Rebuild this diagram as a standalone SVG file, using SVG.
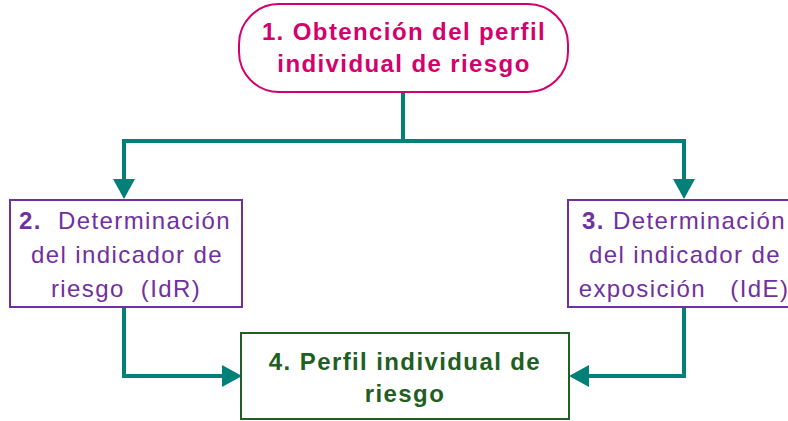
<svg xmlns="http://www.w3.org/2000/svg" width="788" height="421" viewBox="0 0 788 421">
<style>
text{font-family:"Liberation Sans",Arial,sans-serif;font-size:24px;text-anchor:middle;letter-spacing:1.4px}
.t1{fill:#D4006E;font-weight:bold}
.p{fill:#7030A0}
.b{font-weight:bold}
.g{fill:#215E21;font-weight:bold}
.conn{fill:none;stroke:#008078;stroke-width:4;stroke-linejoin:miter}
</style>
<defs>
<marker id="ah" markerUnits="userSpaceOnUse" markerWidth="20" markerHeight="22" refX="0" refY="11" orient="auto">
<path d="M0,0 L20,11 L0,22 z" fill="#008078"/>
</marker>
</defs>
<rect width="788" height="421" fill="#fff"/>
<g id="connectors">
<path class="conn" d="M403,92 V141 H124 V179" marker-end="url(#ah)"/>
<path class="conn" d="M403,141 H684 V179" marker-end="url(#ah)"/>
<path class="conn" d="M124,307 V376 H222" marker-end="url(#ah)"/>
<path class="conn" d="M684,307 V376 H589" marker-end="url(#ah)"/>
</g>
<g id="n1">
<rect x="239" y="4" width="329" height="88" rx="40" ry="40" fill="#fff" stroke="#D4006E" stroke-width="2"/>
<text class="t1" x="404" y="40">1. Obtención del perfil</text>
<text class="t1" x="404" y="72">individual de riesgo</text>
</g>
<g id="n2">
<rect x="10" y="200" width="232" height="107" fill="#fff" stroke="#7030A0" stroke-width="2"/>
<text class="p" x="125" y="229" xml:space="preserve"><tspan class="b">2.</tspan>  Determinación</text>
<text class="p" x="127" y="263">del indicador de</text>
<text class="p" x="126" y="297" xml:space="preserve">riesgo  (IdR)</text>
</g>
<g id="n3">
<rect x="568" y="200" width="232" height="107" fill="#fff" stroke="#7030A0" stroke-width="2"/>
<text class="p" x="684" y="229"><tspan class="b">3.</tspan> Determinación</text>
<text class="p" x="685" y="263">del indicador de</text>
<text class="p" x="684" y="297" xml:space="preserve">exposición   (IdE)</text>
</g>
<g id="n4">
<rect x="241" y="333" width="328" height="86" fill="#fff" stroke="#215E21" stroke-width="2"/>
<text class="g" x="405" y="370">4. Perfil individual de</text>
<text class="g" x="405" y="402">riesgo</text>
</g>
</svg>
